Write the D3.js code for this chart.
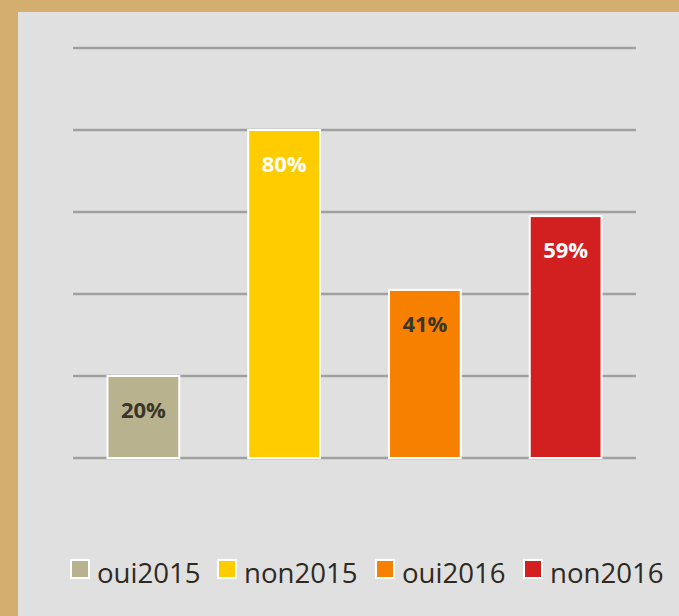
<!DOCTYPE html>
<html>
<head>
<meta charset="utf-8">
<script src="https://cdn.jsdelivr.net/npm/d3@7"></script>
<style>
  body { margin: 0; background: #D4AE6F; }
  svg { display: block; }
</style>
</head>
<body>
<svg width="679" height="616"></svg>
<script>
// chart values
var categories = ['oui2015', 'non2015', 'oui2016', 'non2016']
var values = [20, 80, 41, 59]
var colors = ['#B8B28E', '#FFCC00', '#F88000', '#D21F1F']
var labelColors = ['#3A3628', '#FFFFFF', '#3A3628', '#FFFFFF']
var gridTicks = [0, 20, 40, 60, 80, 100]

var svg = d3.select('svg')

// grey panel
svg.append('rect')
  .attr('x', 18).attr('y', 12)
  .attr('width', 661).attr('height', 604)
  .attr('fill', '#E0E0E0')

var x = d3.scaleBand()
  .domain(categories)
  .range([73, 636])
  .paddingInner(0.49)
  .paddingOuter(0.245)

var y = d3.scaleLinear()
  .domain([0, 100])
  .range([458, 48])

// gridlines
svg.append('g')
  .selectAll('line')
  .data(gridTicks)
  .enter()
  .append('line')
  .attr('x1', 73).attr('x2', 636)
  .attr('y1', function(d){ return y(d) })
  .attr('y2', function(d){ return y(d) })
  .attr('stroke', '#A0A0A0')
  .attr('stroke-width', 2.5)

var bars = svg.append('g')
  .selectAll('g')
  .data(values)
  .enter()
  .append('g')

bars.append('rect')
  .attr('x', function(d, i){ return x(categories[i]) })
  .attr('y', function(d){ return y(d) })
  .attr('width', x.bandwidth())
  .attr('height', function(d){ return y(0) - y(d) })
  .attr('fill', function(d, i){ return colors[i] })
  .attr('stroke', '#FFFFFF')
  .attr('stroke-width', 2)

bars.append('text')
  .attr('x', function(d, i){ return x(categories[i]) + x.bandwidth() / 2 })
  .attr('y', function(d){ return y(d) + 42 })
  .attr('text-anchor', 'middle')
  .attr('font-family', 'Open Sans')
  .attr('font-weight', 'bold')
  .attr('font-size', 22)
  .attr('fill', function(d, i){ return labelColors[i] })
  .text(function(d){ return d + '%' })

// legend
var legendX = [70, 217, 375, 523]
var legend = svg.append('g')
  .selectAll('g')
  .data(categories)
  .enter()
  .append('g')
  .attr('transform', function(d, i){ return 'translate(' + legendX[i] + ',559)' })

legend.append('rect')
  .attr('x', 1).attr('y', 1)
  .attr('width', 18).attr('height', 18)
  .attr('fill', function(d, i){ return colors[i] })
  .attr('stroke', '#FFFFFF')
  .attr('stroke-width', 2)

legend.append('text')
  .attr('x', 27)
  .attr('y', 24)
  .attr('font-family', 'Open Sans')
  .attr('font-size', 27.6)
  .attr('fill', '#2E2A22')
  .text(function(d){ return d })
</script>
</body>
</html>
